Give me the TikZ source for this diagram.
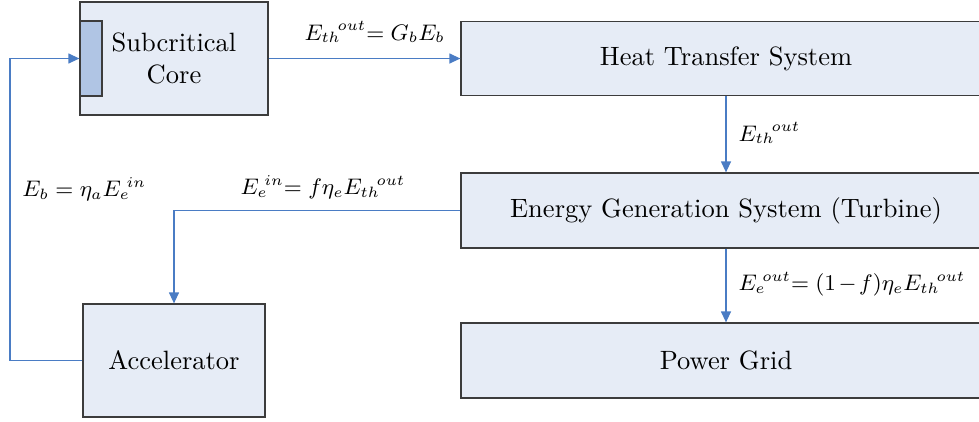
\documentclass[tikz,border=0pt]{standalone}
\usetikzlibrary{arrows.meta}
\definecolor{boxfill}{RGB}{230,236,246}
\definecolor{slotfill}{RGB}{176,197,228}
\definecolor{flow}{RGB}{74,124,196}
\definecolor{edge}{RGB}{60,60,60}
\newcommand{\Sup}[1]{{}^{\mkern-3mu #1}}
\begin{document}
\begin{tikzpicture}[x=0.4pt,y=-0.4pt,
  blk/.style={draw=edge,line width=0.5pt,fill=boxfill,inner sep=0pt,align=center,
    font=\fontsize{10.6}{12.8}\selectfont},
  flowline/.style={draw=flow,line width=0.5pt},
  flowarrow/.style={flowline,-{Triangle[length=4.4pt,width=4pt]}},
  lbl/.style={inner sep=0pt,anchor=west,font=\fontsize{8.8}{11}\selectfont}]
\useasboundingbox (0,0) rectangle (979,421);
% boxes
\node[blk,minimum width=75.2pt,minimum height=45.2pt] (core) at (174,58.5) {Subcritical\\Core};
\node[draw=edge,line width=0.5pt,fill=slotfill,minimum width=8.8pt,minimum height=30pt,inner sep=0pt] (slot) at (91,58.5) {};
\node[blk,minimum width=212pt,minimum height=29.6pt] (heat) at (726,58.5) {Heat Transfer System};
\node[blk,minimum width=212pt,minimum height=30pt] (gen) at (726,210.5) {Energy Generation System (Turbine)};
\node[blk,minimum width=212pt,minimum height=30pt] (grid) at (726,360.5) {Power Grid};
\node[blk,minimum width=72.8pt,minimum height=45.2pt] (acc) at (174,360.5) {Accelerator};
% connectors
\draw[flowarrow] (core.east) -- (heat.west);
\draw[flowarrow] (heat.south) -- (gen.north);
\draw[flowarrow] (gen.south) -- (grid.north);
\coordinate (accin) at (acc.north);
\draw[flowarrow] (gen.west) -| (accin);
\coordinate (lc) at (10,360.5);
\draw[flowarrow] (acc.west) -- (lc) |- (slot.west);
% labels
\node[lbl] (l1) at (304,32) {$E_{th}\Sup{out}{=}\;G_bE_b$};
\node[lbl] (l2) at (738,133) {$E_{th}\Sup{out}$};
\node[lbl] (l3) at (738,284) {$E_e\Sup{out}{=}\;(1\mkern-2mu-\mkern-2mu f)\eta_eE_{th}\Sup{out}$};
\node[lbl] (l4) at (240,187) {$E_e\Sup{in}{=}\;f\eta_eE_{th}\Sup{out}$};
\node[lbl] (l5) at (22,189) {$E_b = \eta_aE_e\Sup{in}$};
\end{tikzpicture}
\end{document}
